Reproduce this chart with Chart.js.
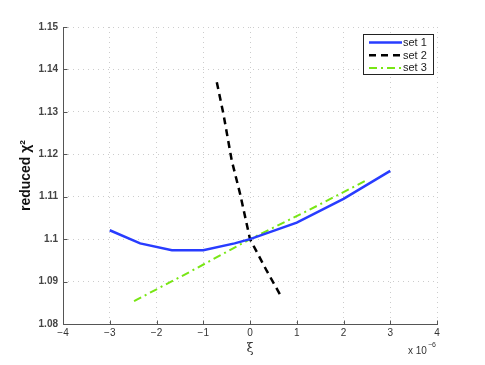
<!DOCTYPE html>
<html>
<head>
<meta charset="utf-8">
<script src="https://cdn.jsdelivr.net/npm/chart.js@4"></script>
<style>
  html, body { margin: 0; padding: 0; background: #fff; }
  #wrap { width: 485px; height: 365px; }
</style>
</head>
<body>
<div id="wrap"><canvas id="chi-chart" width="485" height="365"></canvas></div>
<script>
// data (x in units of 1e-6)
const set1X = [-3, -2.35, -1.67, -1, -0.33, 0, 1, 2, 3];
const set1Y = [1.1021, 1.0990, 1.0974, 1.0974, 1.0990, 1.1, 1.1039, 1.1095, 1.1161];

const set2X = [-0.71, -0.57, -0.39, -0.21, 0, 0.36, 0.68];
const set2Y = [1.1370, 1.1296, 1.1185, 1.1106, 1.1, 1.0925, 1.0862];

const set3X = [-2.48, -1.25, 0, 1.25, 2.48];
const set3Y = [1.0854, 1.0925, 1.1, 1.1068, 1.1138];

const seriesNames = ['set 1', 'set 2', 'set 3'];
const xTickLabels = ['\u22124', '\u22123', '\u22122', '\u22121', '0', '1', '2', '3', '4'];
const yTickLabels = ['1.08', '1.09', '1.1', '1.11', '1.12', '1.13', '1.14', '1.15'];

const font = 'Liberation Sans, Arial, sans-serif';

function toPoints(xs, ys) {
  return xs.map((x, i) => ({x: x, y: ys[i]}));
}

// axis lines, ticks pointing inward, legend box inside the plot, extra texts
const extras = {
  id: 'extras',
  afterDraw(chart) {
    const ctx = chart.ctx;
    const xs = chart.scales.x, ys = chart.scales.y;
    const a = chart.chartArea;
    ctx.save();
    ctx.setLineDash([]);
    ctx.strokeStyle = '#555';
    ctx.lineWidth = 1;
    ctx.beginPath();
    const left = Math.round(a.left) + 0.5, bottom = Math.round(a.bottom) + 0.5;
    ctx.moveTo(left, Math.round(a.top));
    ctx.lineTo(left, bottom);
    ctx.lineTo(Math.round(a.right) + 1, bottom);
    xs.ticks.forEach(t => {
      const px = Math.round(xs.getPixelForValue(t.value)) + 0.5;
      ctx.moveTo(px, bottom);
      ctx.lineTo(px, bottom - 4);
    });
    ys.ticks.forEach(t => {
      const py = Math.round(ys.getPixelForValue(t.value)) + 0.5;
      ctx.moveTo(left, py);
      ctx.lineTo(left + 4, py);
    });
    ctx.stroke();

    // legend
    const lx = 363, ly = 34, lw = 70, lh = 40;
    ctx.fillStyle = '#fff';
    ctx.fillRect(lx, ly, lw, lh);
    ctx.strokeStyle = '#222';
    ctx.strokeRect(lx + 0.5, ly + 0.5, lw, lh);
    chart.data.datasets.forEach((ds, i) => {
      const y = ly + 8.5 + i * 12.7;
      ctx.strokeStyle = ds.borderColor;
      ctx.lineWidth = ds.borderWidth;
      ctx.setLineDash(ds.borderDash || []);
      ctx.beginPath();
      ctx.moveTo(lx + 6, y);
      ctx.lineTo(lx + 39, y);
      ctx.stroke();
      ctx.setLineDash([]);
      ctx.fillStyle = '#222';
      ctx.font = '11px ' + font;
      ctx.textBaseline = 'middle';
      ctx.textAlign = 'left';
      ctx.fillText(ds.label, lx + 40, y + 0.5);
    });

    // x label and exponent
    ctx.fillStyle = '#333';
    ctx.textAlign = 'center';
    ctx.textBaseline = 'middle';
    ctx.font = '13px DejaVu Serif, serif';
    ctx.fillText('\u03be', xs.getPixelForValue(0), 349);
    ctx.font = '10px ' + font;
    ctx.textAlign = 'left';
    ctx.fillText('x 10', 408, 351);
    ctx.font = '7px ' + font;
    ctx.fillText('\u22126', 428, 345);
    ctx.restore();
  }
};

new Chart(document.getElementById('chi-chart'), {
  type: 'line',
  data: {
    datasets: [
      {
        label: seriesNames[0],
        data: toPoints(set1X, set1Y),
        borderColor: 'rgb(40,60,255)',
        borderWidth: 2.5,
        pointRadius: 0,
        tension: 0,
        fill: false
      },
      {
        label: seriesNames[1],
        data: toPoints(set2X, set2Y),
        borderColor: '#000',
        borderWidth: 2.5,
        borderDash: [7, 5],
        pointRadius: 0,
        tension: 0,
        fill: false
      },
      {
        label: seriesNames[2],
        data: toPoints(set3X, set3Y),
        borderColor: 'rgb(120,230,20)',
        borderWidth: 2,
        borderDash: [8, 4, 2, 4],
        pointRadius: 0,
        tension: 0,
        fill: false
      }
    ]
  },
  options: {
    responsive: false,
    animation: false,
    layout: { padding: { top: 27, right: 48, left: 0, bottom: 0 } },
    plugins: {
      legend: { display: false },
      tooltip: { enabled: false }
    },
    scales: {
      x: {
        type: 'linear',
        min: -4,
        max: 4,
        ticks: {
          stepSize: 1,
          color: '#333',
          font: { family: font, size: 10 },
          padding: 3,
          maxRotation: 0,
          callback: (v) => xTickLabels[Math.round(v + 4)]
        },
        grid: {
          color: '#cccccc',
          drawTicks: false
        },
        border: { display: false, dash: [1, 4] },
        afterFit: (scale) => { scale.height = 41; }
      },
      y: {
        type: 'linear',
        min: 1.08,
        max: 1.15,
        ticks: {
          stepSize: 0.01,
          color: '#444',
          font: { family: font, size: 10, weight: 'bold' },
          padding: 5,
          callback: (v) => yTickLabels[Math.round((v - 1.08) * 100)]
        },
        grid: {
          color: '#cccccc',
          drawTicks: false
        },
        border: { display: false, dash: [1, 4] },
        title: {
          display: true,
          text: 'reduced \u03c7\u00b2',
          color: '#111',
          font: { family: font, size: 14, weight: 'bold' },
          padding: { top: 18, bottom: 0 }
        },
        afterFit: (scale) => { scale.width = 63; }
      }
    }
  },
  plugins: [extras]
});
</script>
</body>
</html>
